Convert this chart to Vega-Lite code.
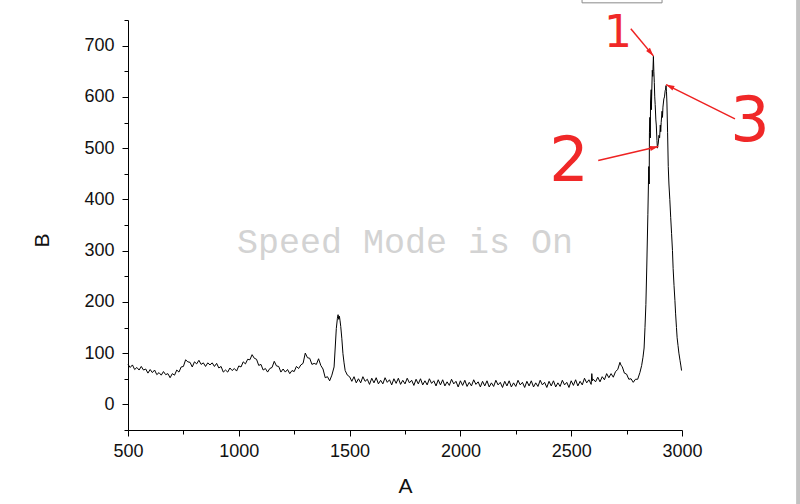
{
"$schema": "https://vega.github.io/schema/vega-lite/v6.json",
"width": 554, "height": 410,
"autosize": {"type": "none"},
"padding": {"left": 128, "top": 20, "right": 118, "bottom": 74},
"background": "white",
"config": {"view": {"stroke": null}},
"data": {"values": [
{"A":500,"B":78},{"A":510,"B":72},{"A":520,"B":77},{"A":530,"B":68},{"A":540,"B":72},{"A":550,"B":67},{"A":560,"B":74},{"A":570,"B":67},{"A":580,"B":69},{"A":590,"B":61},
{"A":600,"B":68},{"A":610,"B":62},{"A":620,"B":67},{"A":630,"B":58},{"A":640,"B":62},{"A":650,"B":57},{"A":660,"B":64},{"A":670,"B":58},{"A":680,"B":60},{"A":690,"B":52},
{"A":700,"B":60},{"A":710,"B":57},{"A":720,"B":67},{"A":730,"B":63},{"A":740,"B":73},{"A":750,"B":74},{"A":760,"B":87},{"A":770,"B":83},{"A":780,"B":82},{"A":790,"B":73},
{"A":800,"B":83},{"A":810,"B":79},{"A":820,"B":86},{"A":830,"B":78},{"A":840,"B":81},{"A":850,"B":74},{"A":860,"B":81},{"A":870,"B":77},{"A":880,"B":81},{"A":890,"B":74},
{"A":900,"B":80},{"A":910,"B":71},{"A":920,"B":74},{"A":930,"B":63},{"A":940,"B":67},{"A":950,"B":63},{"A":960,"B":71},{"A":970,"B":66},{"A":980,"B":70},{"A":990,"B":65},
{"A":1000,"B":75},{"A":1010,"B":73},{"A":1020,"B":83},{"A":1030,"B":79},{"A":1040,"B":88},{"A":1050,"B":87},{"A":1060,"B":97},{"A":1070,"B":90},{"A":1080,"B":88},{"A":1090,"B":76},
{"A":1100,"B":78},{"A":1110,"B":67},{"A":1120,"B":70},{"A":1130,"B":63},{"A":1140,"B":70},{"A":1150,"B":72},{"A":1160,"B":84},{"A":1170,"B":75},{"A":1180,"B":74},{"A":1190,"B":63},
{"A":1200,"B":69},{"A":1210,"B":63},{"A":1220,"B":68},{"A":1230,"B":60},{"A":1240,"B":66},{"A":1250,"B":64},{"A":1260,"B":74},{"A":1270,"B":70},{"A":1280,"B":77},{"A":1290,"B":80},
{"A":1300,"B":100},{"A":1310,"B":91},{"A":1320,"B":90},{"A":1330,"B":78},{"A":1340,"B":80},{"A":1350,"B":78},{"A":1360,"B":89},{"A":1370,"B":76},{"A":1380,"B":69},{"A":1390,"B":52},
{"A":1400,"B":54},{"A":1410,"B":46},{"A":1420,"B":57},{"A":1430,"B":73},{"A":1435,"B":110},{"A":1440,"B":148},{"A":1445,"B":168},{"A":1448,"B":175},{"A":1451,"B":166},{"A":1454,"B":172},
{"A":1457,"B":163},{"A":1460,"B":152},{"A":1465,"B":128},{"A":1470,"B":99},{"A":1475,"B":81},{"A":1480,"B":66},{"A":1490,"B":57},
{"A":1500,"B":54},{"A":1510,"B":45},{"A":1520,"B":54},{"A":1530,"B":42},{"A":1540,"B":50},{"A":1550,"B":42},{"A":1560,"B":54},{"A":1570,"B":45},{"A":1580,"B":49},{"A":1590,"B":39},
{"A":1600,"B":51},{"A":1610,"B":42},{"A":1620,"B":52},{"A":1630,"B":40},{"A":1640,"B":47},{"A":1650,"B":40},{"A":1660,"B":52},{"A":1670,"B":43},{"A":1680,"B":48},{"A":1690,"B":38},
{"A":1700,"B":50},{"A":1710,"B":41},{"A":1720,"B":51},{"A":1730,"B":39},{"A":1740,"B":47},{"A":1750,"B":40},{"A":1760,"B":51},{"A":1770,"B":42},{"A":1780,"B":47},{"A":1790,"B":37},
{"A":1800,"B":49},{"A":1810,"B":40},{"A":1820,"B":50},{"A":1830,"B":38},{"A":1840,"B":46},{"A":1850,"B":38},{"A":1860,"B":50},{"A":1870,"B":41},{"A":1880,"B":46},{"A":1890,"B":36},
{"A":1900,"B":48},{"A":1910,"B":38},{"A":1920,"B":48},{"A":1930,"B":36},{"A":1940,"B":44},{"A":1950,"B":37},{"A":1960,"B":49},{"A":1970,"B":40},{"A":1980,"B":45},{"A":1990,"B":34},
{"A":2000,"B":46},{"A":2010,"B":37},{"A":2020,"B":47},{"A":2030,"B":35},{"A":2040,"B":43},{"A":2050,"B":36},{"A":2060,"B":48},{"A":2070,"B":39},{"A":2080,"B":44},{"A":2090,"B":34},
{"A":2100,"B":45},{"A":2110,"B":36},{"A":2120,"B":46},{"A":2130,"B":34},{"A":2140,"B":42},{"A":2150,"B":35},{"A":2160,"B":47},{"A":2170,"B":38},{"A":2180,"B":43},{"A":2190,"B":33},
{"A":2200,"B":45},{"A":2210,"B":36},{"A":2220,"B":46},{"A":2230,"B":34},{"A":2240,"B":42},{"A":2250,"B":35},{"A":2260,"B":47},{"A":2270,"B":38},{"A":2280,"B":43},{"A":2290,"B":33},
{"A":2300,"B":45},{"A":2310,"B":36},{"A":2320,"B":46},{"A":2330,"B":34},{"A":2340,"B":42},{"A":2350,"B":35},{"A":2360,"B":47},{"A":2370,"B":38},{"A":2380,"B":43},{"A":2390,"B":33},
{"A":2400,"B":45},{"A":2410,"B":36},{"A":2420,"B":46},{"A":2430,"B":34},{"A":2440,"B":42},{"A":2450,"B":35},{"A":2460,"B":47},{"A":2470,"B":38},{"A":2480,"B":43},{"A":2490,"B":33},
{"A":2500,"B":46},{"A":2510,"B":37},{"A":2520,"B":48},{"A":2530,"B":36},{"A":2540,"B":45},{"A":2550,"B":38},{"A":2560,"B":51},{"A":2570,"B":42},{"A":2580,"B":48},{"A":2590,"B":39},{"A":2593,"B":60},{"A":2596,"B":46},
{"A":2600,"B":49},{"A":2610,"B":44},{"A":2620,"B":53},{"A":2630,"B":44},{"A":2640,"B":54},{"A":2650,"B":48},{"A":2660,"B":60},{"A":2670,"B":52},{"A":2680,"B":60},{"A":2690,"B":53},
{"A":2700,"B":64},{"A":2710,"B":68},{"A":2720,"B":82},{"A":2725,"B":76},{"A":2730,"B":74},{"A":2740,"B":61},{"A":2750,"B":59},{"A":2760,"B":49},{"A":2770,"B":50},{"A":2780,"B":43},
{"A":2790,"B":49},{"A":2800,"B":49},{"A":2810,"B":62},{"A":2818,"B":76},{"A":2824,"B":92},
{"A":2829,"B":110},{"A":2833,"B":150},{"A":2837,"B":195},{"A":2841,"B":268},{"A":2846,"B":370},{"A":2850,"B":464},{"A":2852,"B":430},{"A":2853,"B":530},{"A":2855,"B":560},{"A":2857,"B":520},{"A":2858,"B":590},{"A":2861,"B":614},
{"A":2862,"B":575},{"A":2863,"B":600},{"A":2866,"B":652},{"A":2868,"B":640},{"A":2871,"B":679},{"A":2873,"B":650},{"A":2875,"B":628},{"A":2877,"B":600},{"A":2879,"B":585},{"A":2882,"B":555},{"A":2884,"B":545},
{"A":2887,"B":515},{"A":2889,"B":500},{"A":2891,"B":505},{"A":2893,"B":510},{"A":2896,"B":525},{"A":2899,"B":520},{"A":2902,"B":545},{"A":2904,"B":532},{"A":2906,"B":550},{"A":2910,"B":572},{"A":2912,"B":560},{"A":2914,"B":580},
{"A":2918,"B":596},{"A":2921,"B":600},{"A":2924,"B":612},{"A":2926,"B":615},{"A":2928,"B":622},{"A":2930,"B":610},{"A":2932,"B":588},{"A":2935,"B":530},{"A":2938,"B":464},{"A":2941,"B":430},
{"A":2945,"B":400},{"A":2949,"B":365},{"A":2953,"B":333},{"A":2957,"B":300},{"A":2960,"B":265},{"A":2964,"B":232},{"A":2968,"B":203},{"A":2971,"B":178},{"A":2975,"B":150},{"A":2978,"B":130},
{"A":2982,"B":115},{"A":2986,"B":100},{"A":2991,"B":86},{"A":2995,"B":75},{"A":2998,"B":66}
]},
"encoding": {
  "x": {"field": "A", "type": "quantitative", "title": "A",
    "scale": {"domain": [500, 3000], "nice": false, "zero": false},
    "axis": {"values": [500,750,1000,1250,1500,1750,2000,2250,2500,2750,3000], "format": "d",
      "labelExpr": "datum.value % 500 === 0 ? datum.label : ''",
      "tickSize": {"condition": {"test": "datum.value % 500 === 0", "value": 6}, "value": 4},
      "labelFlush": false, "labelOverlap": false,
      "grid": false, "domainColor": "#000", "tickColor": "#000", "labelColor": "#111",
      "labelFont": "Liberation Sans", "labelFontSize": 18, "labelPadding": 6,
      "titleFont": "Liberation Sans", "titleFontSize": 21, "titleFontWeight": "normal", "titleColor": "#111", "titlePadding": 15}},
  "y": {"field": "B", "type": "quantitative", "title": "B",
    "scale": {"domain": [-50, 750], "nice": false, "zero": false},
    "axis": {"values": [-50,0,50,100,150,200,250,300,350,400,450,500,550,600,650,700,750], "format": "d",
      "labelExpr": "datum.value % 100 === 0 ? datum.label : ''",
      "tickSize": {"condition": {"test": "datum.value % 100 === 0", "value": 6}, "value": 4},
      "labelFlush": false, "labelOverlap": false,
      "grid": false, "domainColor": "#000", "tickColor": "#000", "labelColor": "#111",
      "labelFont": "Liberation Sans", "labelFontSize": 18, "labelPadding": 8,
      "titleFont": "Liberation Sans", "titleFontSize": 21, "titleFontWeight": "normal", "titleColor": "#111", "titlePadding": 31, "titleY": 220}}
},
"layer": [
  {"data": {"values": [{"A": 2549, "A2": 2910, "B": 783.5, "B2": 830}]},
   "mark": {"type": "rect", "fill": "white", "stroke": "#8a8a8a", "strokeWidth": 1},
   "encoding": {"x2": {"field": "A2"}, "y2": {"field": "B2"}}},
  {"data": {"values": [{"A": 3515, "A2": 3700, "B": -400, "B2": 1000}]},
   "mark": {"type": "rect", "fill": "#c2c2c2"},
   "encoding": {"x2": {"field": "A2"}, "y2": {"field": "B2"}}},
  {"data": {"values": [{"A": 1750, "B": 316, "label": "Speed Mode is On"}]},
   "mark": {"type": "text", "font": "Liberation Mono", "fontSize": 35, "color": "#d3d3d3", "align": "center", "baseline": "middle"},
   "encoding": {"text": {"field": "label"}}},
  {"mark": {"type": "line", "color": "#000", "strokeWidth": 1}},
  {"data": {"values": [
     {"A": 2769, "B": 733, "A2": 2871, "B2": 680},
     {"A": 2622, "B": 476, "A2": 2893, "B2": 503},
     {"A": 3239, "B": 557, "A2": 2928, "B2": 624}]},
   "mark": {"type": "rule", "color": "#ee2222", "strokeWidth": 1.5},
   "encoding": {"x2": {"field": "A2"}, "y2": {"field": "B2"}}},
  {"data": {"values": [{"A": 2871, "B": 680}]},
   "mark": {"type": "point", "shape": "M0,0L-0.6,2L0.6,2Z", "filled": true, "color": "#ee2222", "opacity": 1, "size": 70, "angle": 140}},
  {"data": {"values": [{"A": 2893, "B": 503}]},
   "mark": {"type": "point", "shape": "M0,0L-0.6,2L0.6,2Z", "filled": true, "color": "#ee2222", "opacity": 1, "size": 70, "angle": 77}},
  {"data": {"values": [{"A": 2928, "B": 624}]},
   "mark": {"type": "point", "shape": "M0,0L-0.6,2L0.6,2Z", "filled": true, "color": "#ee2222", "opacity": 1, "size": 70, "angle": 296}},
  {"data": {"values": [{"A": 2711, "B": 723, "label": "1"}]},
   "mark": {"type": "text", "font": "DejaVu Sans", "fontWeight": "normal", "fontSize": 44, "color": "#f02828", "align": "center", "baseline": "middle"},
   "encoding": {"text": {"field": "label"}}},
  {"data": {"values": [{"A": 2490, "B": 473, "label": "2"}, {"A": 3307, "B": 551, "label": "3"}]},
   "mark": {"type": "text", "font": "DejaVu Sans", "fontWeight": "normal", "fontSize": 62, "color": "#f02828", "align": "center", "baseline": "middle"},
   "encoding": {"text": {"field": "label"}}}
]
}
